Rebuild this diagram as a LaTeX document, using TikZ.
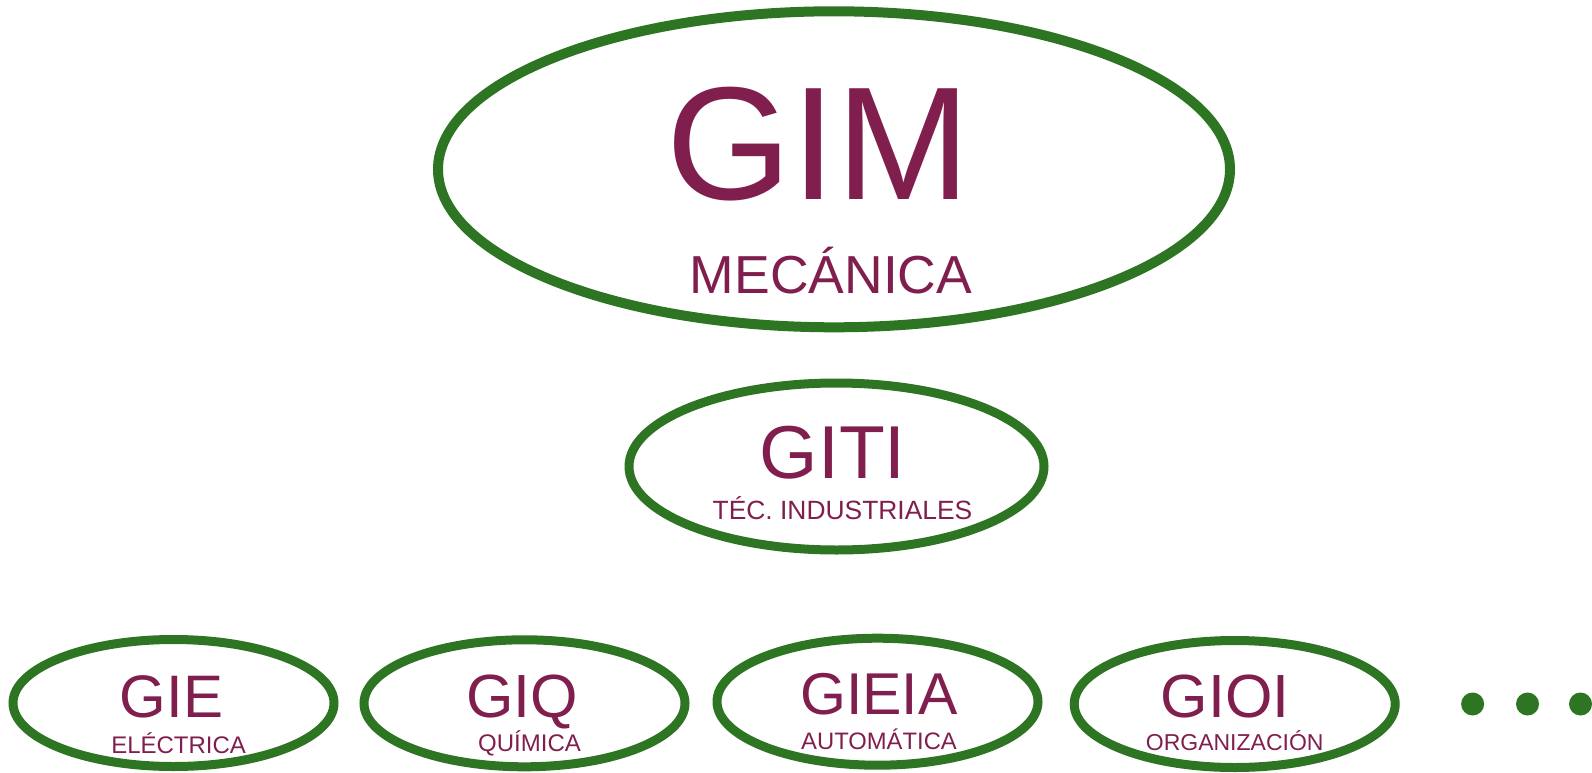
\documentclass[tikz,border=0pt]{standalone}
\usepackage{fontspec}
\usepackage{graphicx}
\setmainfont{Liberation Sans}
\usetikzlibrary{shapes.geometric}

\definecolor{ringgreen}{RGB}{46,117,35}
\definecolor{labelwine}{RGB}{128,30,77}

\newcommand\fsz[1]{\fontsize{#1}{#1}\selectfont}

\tikzset{
  ring/.style={ellipse, draw=ringgreen, inner sep=0pt, outer sep=0pt},
  bigring/.style={ring, line width=10pt, minimum width=792pt, minimum height=316pt},
  midring/.style={ring, line width=9pt, minimum width=415pt, minimum height=167pt},
  smallring/.style={ring, line width=9pt, minimum width=321pt, minimum height=127pt},
  lbl/.style={text=labelwine, inner sep=0pt, anchor=base},
  dot/.style={circle, fill=ringgreen, inner sep=0pt, minimum size=23pt},
}

\begin{document}
\begin{tikzpicture}[x=1pt, y=-1pt]
  \useasboundingbox (0,0) rectangle (1592,773);

  % degree rings
  \node[bigring]   (gim)   at (834,169.3) {};
  \node[midring]   (giti)  at (836.5,466.5) {};
  \node[smallring] (gie)   at (173.5,703) {};
  \node[smallring] (giq)   at (524.5,703.3) {};
  \node[smallring] (gieia) at (877.5,701.7) {};
  \node[smallring] (gioi)  at (1234.7,704) {};

  % acronyms and branch names
  \node[lbl, font=\fsz{161}] (gimname)  at (818.7,199) {GIM};
  \node[lbl, font=\fsz{53.5}] (gimsub)  at (831,293.3) {MECÁNICA};

  \node[lbl, font=\fsz{75}] (gitiname)  at (832.8,478.3) {GITI};
  \node[lbl, font=\fsz{26.4}] (gitisub) at (842.5,519.3) {TÉC. INDUSTRIALES};

  \node[lbl, font=\fsz{60}] (giename)   at (171.5,717.3) {GIE};
  \node[lbl, font=\fsz{24}] (giesub)    at (178.6,753.3) {ELÉCTRICA};

  \node[lbl, font=\fsz{61}] (giqname)   at (522,717.3) {GIQ};
  \node[lbl, font=\fsz{24}] (giqsub)    at (529.5,751.7) {QUÍMICA};

  \node[lbl, font=\fsz{59}] (gieianame) at (879,714) {GIEIA};
  \node[lbl, font=\fsz{23.8}] (gieiasub) at (879,749.3) {AUTOMÁTICA};

  \node[lbl, font=\fsz{61}] (gioiname)  at (1225,717.3) {GIOI};
  \node[lbl, font=\fsz{23}] (gioisub)   at (1234.7,750.7) {ORGANIZACIÓN};

  % trailing ellipsis
  \node[dot] (dota) at (1472.6,704) {};
  \node[dot] (dotb) at (1527.5,704) {};
  \node[dot] (dotc) at (1580.5,704) {};
\end{tikzpicture}
\end{document}
